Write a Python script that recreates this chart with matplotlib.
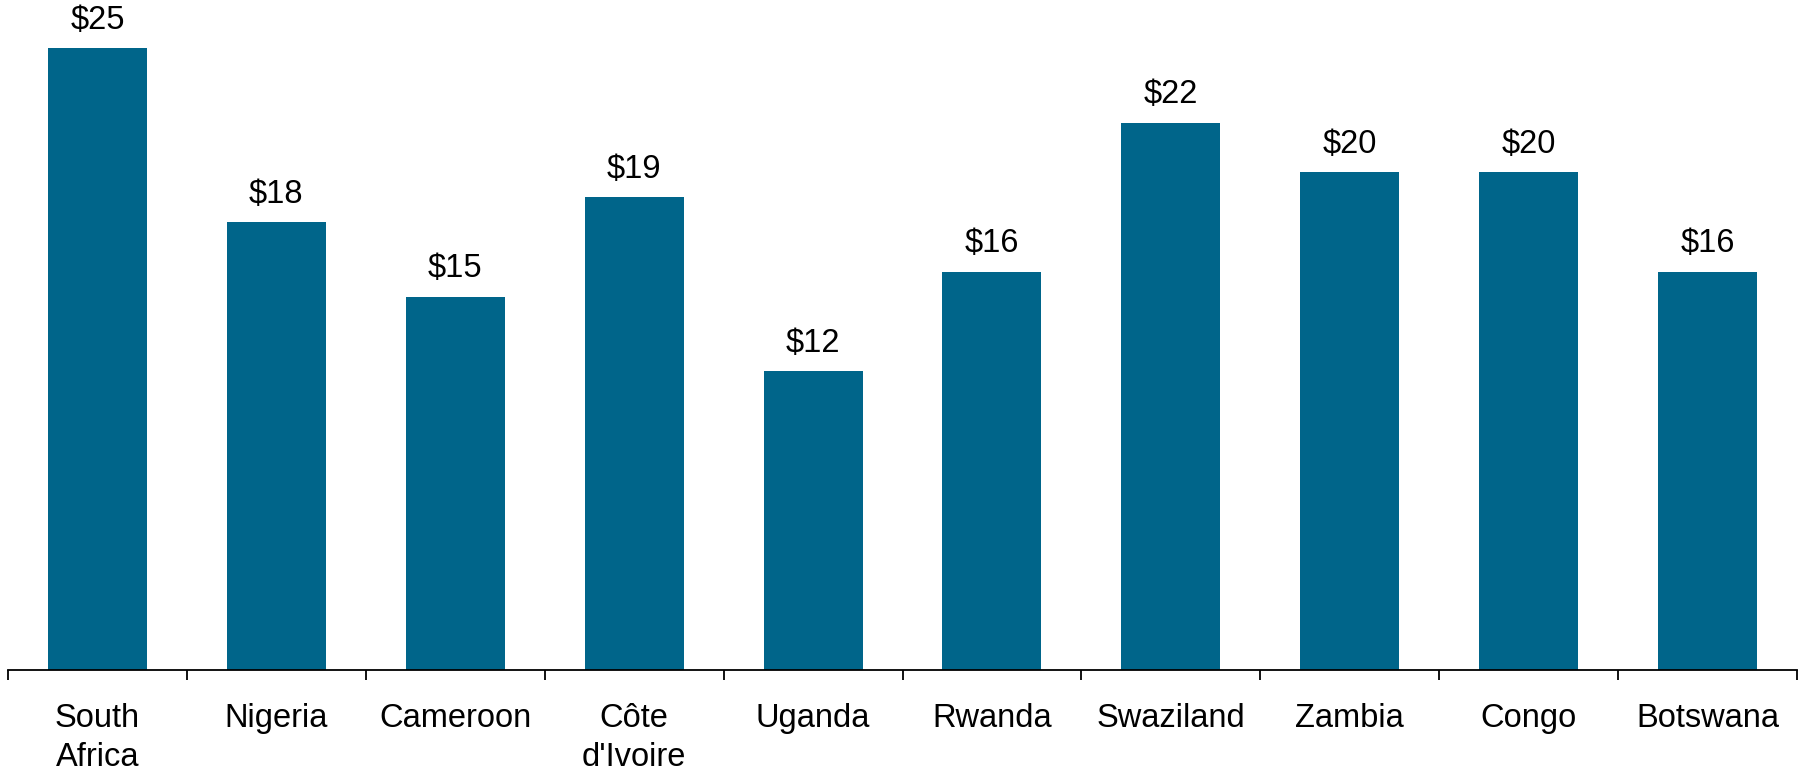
import matplotlib.pyplot as plt
import numpy as np

# Datos
paises = ["South\nAfrica", "Nigeria", "Cameroon", "Côte\nd'Ivoire", "Uganda",
          "Rwanda", "Swaziland", "Zambia", "Congo", "Botswana"]
valores = [25, 18, 15, 19, 12, 16, 22, 20, 20, 16]

plt.rcParams["font.family"] = ["Liberation Sans", "DejaVu Sans"]

fig = plt.figure(figsize=(17.99, 7.75), dpi=100)
ax = fig.add_axes([8 / 1799, 105 / 775, 1789 / 1799, 670 / 775])

x = np.arange(len(paises))
barras = ax.bar(x, valores, width=0.553, color="#00658A")

for xi, v in zip(x, valores):
    ax.annotate(f"${v}", (xi, v), xytext=(0, 14), textcoords="offset points",
                ha="center", va="baseline", fontsize=23.5, color="black",
                annotation_clip=False)

ax.set_xlim(-0.5, len(paises) - 0.5)
ax.set_ylim(0, 26.93)

# Ejes: solo la línea inferior con ticks entre categorías
for lado in ["top", "right", "left"]:
    ax.spines[lado].set_visible(False)
ax.spines["bottom"].set_linewidth(1.3)
ax.set_yticks([])

ax.set_xticks(np.arange(-0.5, len(paises)), minor=False)
ax.set_xticklabels([])
ax.tick_params(axis="x", which="major", direction="out", length=7.5, width=1.3)
ax.set_xticks(x, minor=True)
ax.set_xticklabels(paises, minor=True, fontsize=23.5, linespacing=1.3)
ax.tick_params(axis="x", which="minor", length=0, pad=24)

fig.savefig("out.png", dpi=100)
